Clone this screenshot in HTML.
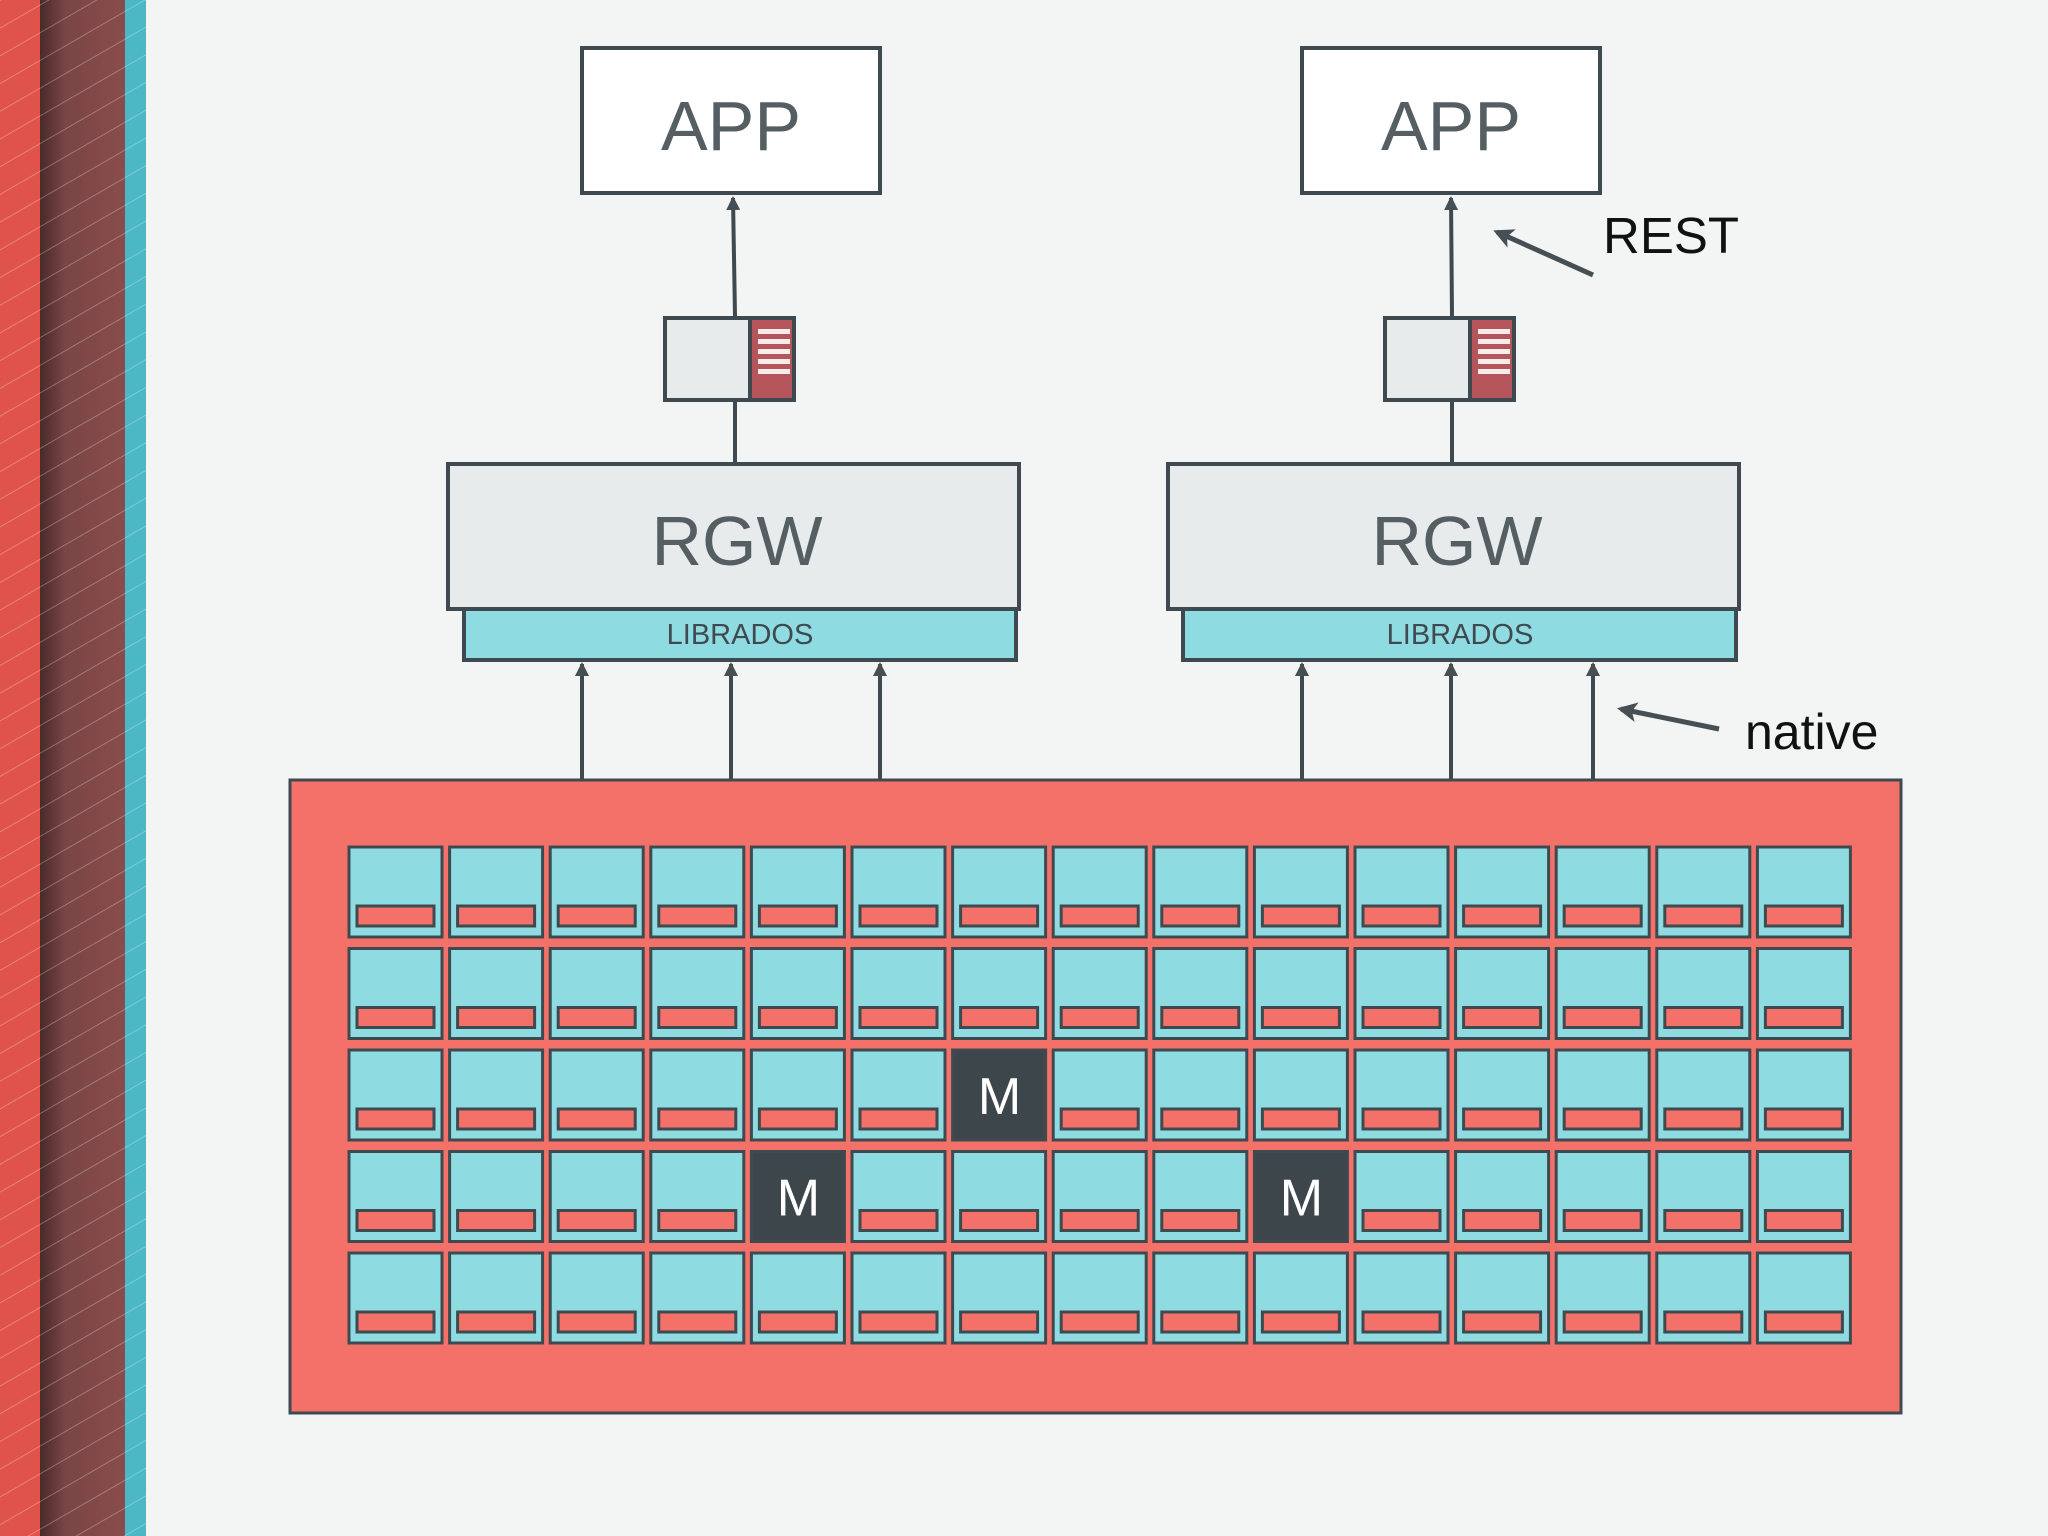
<!DOCTYPE html>
<html><head><meta charset="utf-8"><style>
html,body{margin:0;padding:0;background:#f3f4f4;}
svg{display:block;}
</style></head><body>
<svg width="2048" height="1536" viewBox="0 0 2048 1536" xmlns="http://www.w3.org/2000/svg" font-family="Liberation Sans, sans-serif">
<defs>
<pattern id="hatch" width="24" height="24" patternUnits="userSpaceOnUse" patternTransform="rotate(-30)">
<line x1="0" y1="0" x2="24" y2="0" stroke="#ffffff" stroke-opacity="0.35" stroke-width="1.5"/>
</pattern>
<linearGradient id="brown" x1="0" x2="1" y1="0" y2="0">
<stop offset="0" stop-color="#4a2a2a"/><stop offset="0.3" stop-color="#7a4545"/><stop offset="1" stop-color="#8a4c4c"/>
</linearGradient>
<marker id="ah" markerWidth="14" markerHeight="14" refX="12" refY="7" orient="auto" markerUnits="userSpaceOnUse">
<path d="M0,0 L14,7 L0,14 z" fill="#454f54"/>
</marker>
<marker id="ah2" markerWidth="20" markerHeight="20" refX="16" refY="10" orient="auto" markerUnits="userSpaceOnUse">
<path d="M0,0 L20,10 L0,20 L5,10 z" fill="#454f54"/>
</marker>
</defs>
<rect width="2048" height="1536" fill="#f3f4f4"/>
<rect x="0" y="0" width="40" height="1536" fill="#e0534b"/>
<rect x="40" y="0" width="85" height="1536" fill="url(#brown)"/>
<rect x="125" y="0" width="21" height="1536" fill="#4cb8c6"/>
<rect x="0" y="0" width="146" height="1536" fill="url(#hatch)"/>

<g stroke="#3f4a50" stroke-width="4">
<rect x="582" y="48" width="298" height="145" fill="#ffffff"/>
<rect x="1302" y="48" width="298" height="145" fill="#ffffff"/>
<rect x="448" y="464" width="571" height="145" fill="#e8ebeb"/>
<rect x="464" y="609" width="552" height="51" fill="#8fdbe2"/>
<rect x="1168" y="464" width="571" height="145" fill="#e8ebeb"/>
<rect x="1183" y="609" width="553" height="51" fill="#8fdbe2"/>
<rect x="665" y="318" width="129" height="82" fill="#e8ebeb"/>
<rect x="750" y="318" width="44" height="82" fill="#b5545a"/>
<rect x="1385" y="318" width="129" height="82" fill="#e8ebeb"/>
<rect x="1470" y="318" width="44" height="82" fill="#b5545a"/>
</g>
<g fill="#f6ecea">
<rect x="758" y="329" width="32" height="5"/><rect x="758" y="339" width="32" height="5"/><rect x="758" y="349" width="32" height="5"/><rect x="758" y="359" width="32" height="5"/><rect x="758" y="369" width="32" height="5"/>
<rect x="1478" y="329" width="32" height="5"/><rect x="1478" y="339" width="32" height="5"/><rect x="1478" y="349" width="32" height="5"/><rect x="1478" y="359" width="32" height="5"/><rect x="1478" y="369" width="32" height="5"/>
</g>
<g stroke="#3f4a50" stroke-width="4" fill="none">
<line x1="735" y1="316" x2="733" y2="198" marker-end="url(#ah)"/>
<line x1="735" y1="402" x2="735" y2="463"/>
<line x1="1452" y1="316" x2="1451" y2="198" marker-end="url(#ah)"/>
<line x1="1452" y1="402" x2="1452" y2="463"/>
<line x1="582" y1="780" x2="582" y2="664" marker-end="url(#ah)"/>
<line x1="731" y1="780" x2="731" y2="664" marker-end="url(#ah)"/>
<line x1="880" y1="780" x2="880" y2="664" marker-end="url(#ah)"/>
<line x1="1302" y1="780" x2="1302" y2="664" marker-end="url(#ah)"/>
<line x1="1451" y1="780" x2="1451" y2="664" marker-end="url(#ah)"/>
<line x1="1593" y1="780" x2="1593" y2="664" marker-end="url(#ah)"/>
<line x1="1593" y1="275" x2="1497" y2="232" stroke-width="5" stroke="#454f54" marker-end="url(#ah2)"/>
<line x1="1719" y1="729" x2="1621" y2="709" stroke-width="5" stroke="#454f54" marker-end="url(#ah2)"/>
</g>
<g fill="#555e63" text-anchor="middle">
<text x="731" y="150" font-size="70">APP</text>
<text x="1451" y="150" font-size="70">APP</text>
<text x="737" y="565" font-size="70">RGW</text>
<text x="1457" y="565" font-size="70">RGW</text>
<text x="740" y="644" font-size="29" fill="#3f4a50">LIBRADOS</text>
<text x="1460" y="644" font-size="29" fill="#3f4a50">LIBRADOS</text>
</g>
<text x="1603" y="253" font-size="51" fill="#111">REST</text>
<text x="1745" y="749" font-size="50" fill="#111">native</text>

<rect x="290" y="780" width="1611" height="633" fill="#f4716a" stroke="#3f4a50" stroke-width="3"/>
<g id="cells" stroke="#3f4a50" stroke-width="3">
</g>
<script>
(function(){
var g=document.getElementById('cells');var ns='http://www.w3.org/2000/svg';
var ms={"2,6":1,"3,4":1,"3,9":1};
for(var r=0;r<5;r++){for(var c=0;c<15;c++){
var x=349+c*100.6,y=847+r*101.5;
var rc=document.createElementNS(ns,'rect');
rc.setAttribute('x',x);rc.setAttribute('y',y);rc.setAttribute('width',93);rc.setAttribute('height',90);
if(ms[r+','+c]){rc.setAttribute('fill','#3d464b');g.appendChild(rc);
var t=document.createElementNS(ns,'text');t.setAttribute('x',x+47);t.setAttribute('y',y+64);
t.setAttribute('text-anchor','middle');t.setAttribute('font-size','52');t.setAttribute('fill','#ffffff');t.setAttribute('stroke','none');
t.textContent='M';g.appendChild(t);}
else{rc.setAttribute('fill','#8fdbe2');g.appendChild(rc);
var b=document.createElementNS(ns,'rect');b.setAttribute('x',x+8);b.setAttribute('y',y+59);b.setAttribute('width',77);b.setAttribute('height',20);b.setAttribute('fill','#f4716a');g.appendChild(b);}
}}
})();
</script>
</svg>
</body></html>
